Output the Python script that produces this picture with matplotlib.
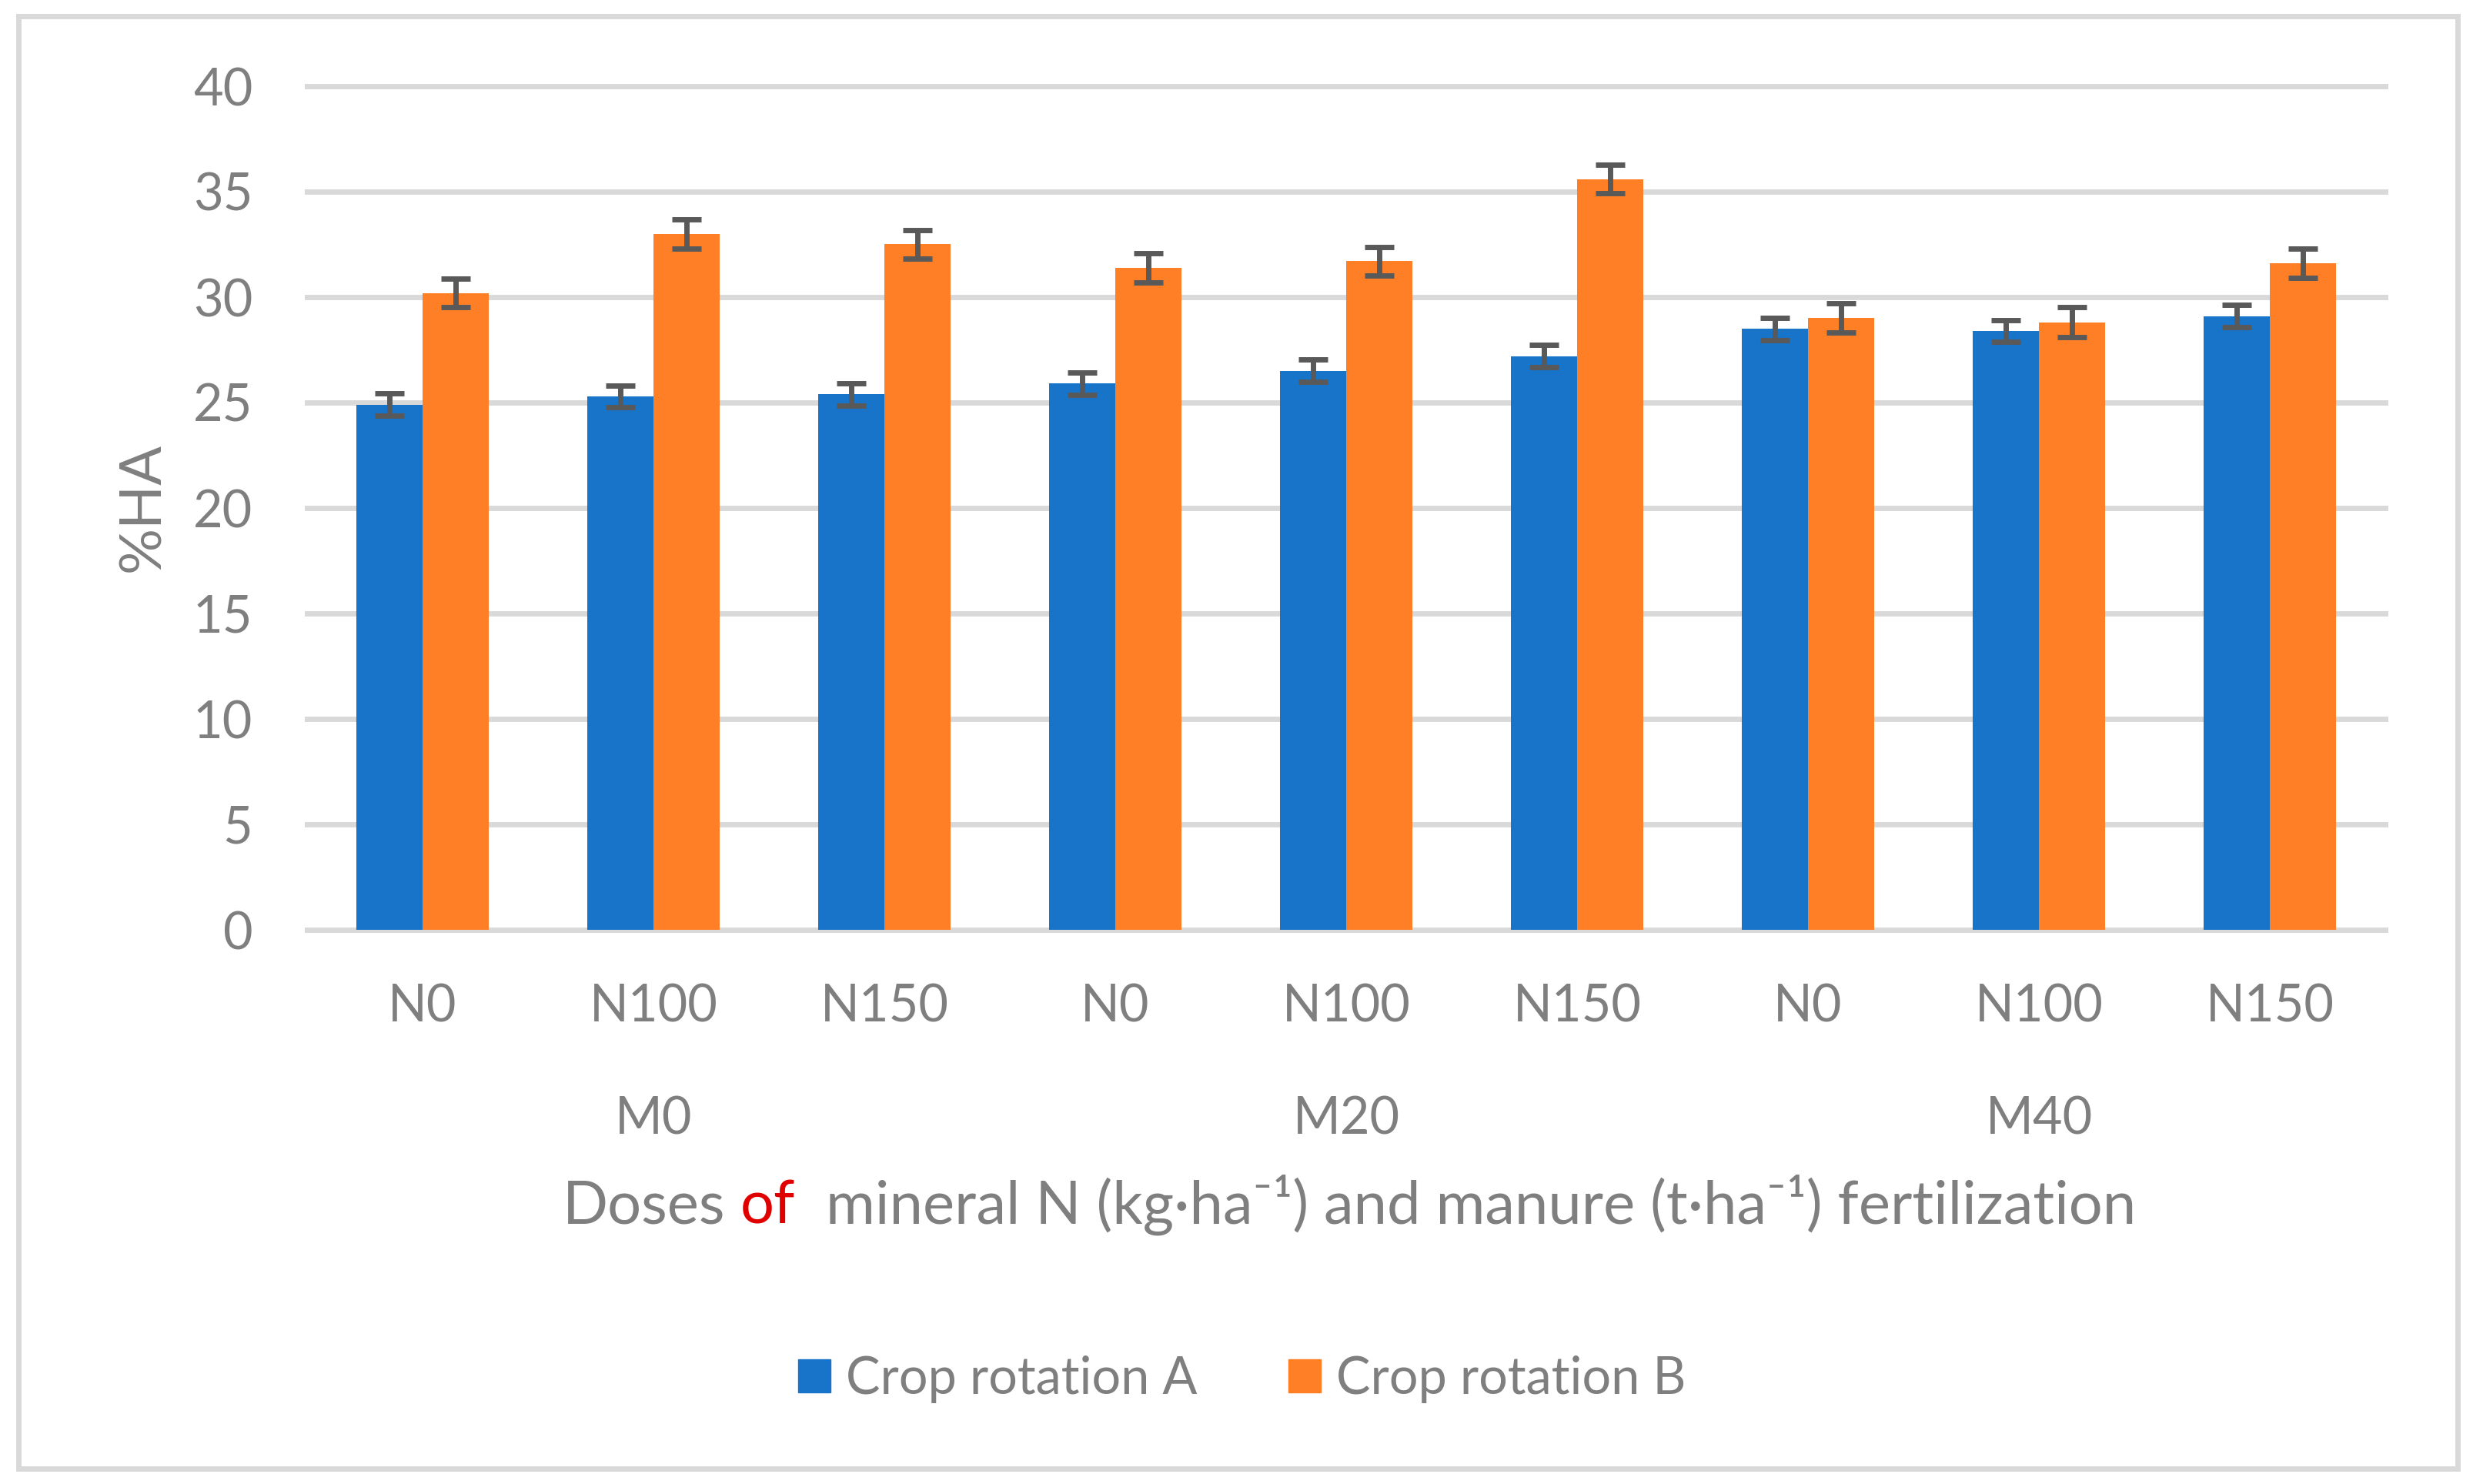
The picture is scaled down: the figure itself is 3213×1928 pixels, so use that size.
import matplotlib
matplotlib.use('Agg')
import matplotlib.pyplot as plt
from matplotlib.patches import Patch, Rectangle
import numpy as np

# data
doses = ['N0', 'N100', 'N150', 'N0', 'N100', 'N150', 'N0', 'N100', 'N150']
manure = ['M0', 'M20', 'M40']
rotation_a = [24.9, 25.3, 25.4, 25.9, 26.5, 27.2, 28.5, 28.4, 29.1]
rotation_b = [30.2, 33.0, 32.5, 31.4, 31.7, 35.6, 29.0, 28.8, 31.6]
err_a = [0.52, 0.52, 0.53, 0.52, 0.53, 0.52, 0.53, 0.52, 0.52]
err_b = [0.69, 0.70, 0.69, 0.69, 0.69, 0.69, 0.69, 0.71, 0.70]
series_names = ['Crop rotation A', 'Crop rotation B']

BLUE = '#1874c9'
ORANGE = '#ff7f27'
GRAY_TXT = '#7f7f7f'
GRID = '#d9d9d9'
ERR = '#595959'
RED = '#e00000'
FAM = ['Lato', 'DejaVu Sans']
XLABEL_SIZE = 56

W, H = 3213, 1928
DPI = 100
plt.rcParams['font.family'] = FAM

fig = plt.figure(figsize=(W / DPI, H / DPI), dpi=DPI)
ax = fig.add_axes([399 / W, 1 - 1208 / H, (3099 - 399) / W, (1208 - 112) / H])

x = np.arange(len(doses))
bw = 0.2865
ax.bar(x - bw / 2, rotation_a, bw, color=BLUE, label=series_names[0], zorder=2)
ax.bar(x + bw / 2, rotation_b, bw, color=ORANGE, label=series_names[1], zorder=2)
ax.errorbar(x - bw / 2, rotation_a, yerr=err_a, fmt='none', ecolor=ERR,
            elinewidth=5, capsize=14, capthick=5, zorder=3)
ax.errorbar(x + bw / 2, rotation_b, yerr=err_b, fmt='none', ecolor=ERR,
            elinewidth=5, capsize=14, capthick=5, zorder=3)

ax.set_xlim(-0.5, len(doses) - 0.5)
ax.set_ylim(0, 40)
ax.set_yticks(np.arange(0, 41, 5))
ax.yaxis.grid(True, color=GRID, linewidth=5)
for gl in ax.get_ygridlines():
    gl.set_clip_on(False)
ax.set_axisbelow(True)
for s in ax.spines.values():
    s.set_visible(False)

ax.set_xticks(x)
ax.set_xticklabels(doses)
ax.tick_params(axis='x', length=0, pad=85.7, labelsize=48, labelcolor=GRAY_TXT)
ax.tick_params(axis='y', length=0, pad=51, labelsize=48, labelcolor=GRAY_TXT)
for lab in ax.get_xticklabels():
    lab.set_verticalalignment('baseline')

# manure group labels under the middle dose of each group
for i, m in enumerate(manure):
    ax.text(3 * i + 1, (1208 - 1473) / (1208 - 112), m, transform=ax.get_xaxis_transform(),
            ha='center', va='baseline', fontsize=48, color=GRAY_TXT)

# y label
fig.text(207 / W, 1 - 659 / H, '%HA', rotation=90, rotation_mode='anchor',
         ha='center', va='baseline', fontsize=54, color=GRAY_TXT)

# x label with the red "of"
full = 'Doses of  mineral N (kg\u00b7ha\u207b\u00b9) and manure (t\u00b7ha\u207b\u00b9) fertilization'
rest = 'mineral N (kg\u00b7ha\u207b\u00b9) and manure (t\u00b7ha\u207b\u00b9) fertilization'
renderer = fig.canvas.get_renderer()


def text_w(s):
    t = fig.text(0, 0, s, fontsize=XLABEL_SIZE)
    w = t.get_window_extent(renderer).width
    t.remove()
    return w


total = text_w(full)
x0 = 1753 - total / 2
x_of = x0 + text_w('Doses of') - text_w('of')
x_rest = x0 + total - text_w(rest)
y_base = 1 - 1590 / H
fig.text(x0 / W, y_base, 'Doses', fontsize=XLABEL_SIZE, color=GRAY_TXT, va='baseline')
fig.text(x_of / W, y_base, 'of', fontsize=XLABEL_SIZE, color=RED, va='baseline')
fig.text(x_rest / W, y_base, rest, fontsize=XLABEL_SIZE, color=GRAY_TXT, va='baseline')

handles = [Patch(color=BLUE), Patch(color=ORANGE)]
fig.legend(handles, series_names, loc='center', bbox_to_anchor=(0.5022, 1 - 1792 / H),
           ncol=2, frameon=False, fontsize=48, labelcolor=GRAY_TXT,
           handlelength=0.63, handleheight=0.63, handletextpad=0.3, columnspacing=1.77)

# light outer frame
fig.patches.append(Rectangle((23.5 / W, 1 - 1907.5 / H), (3192.5 - 23.5) / W,
                             (1907.5 - 20.5) / H, transform=fig.transFigure,
                             fill=False, edgecolor=GRID, linewidth=5))

fig.savefig('out.png', dpi=DPI, facecolor='white')
